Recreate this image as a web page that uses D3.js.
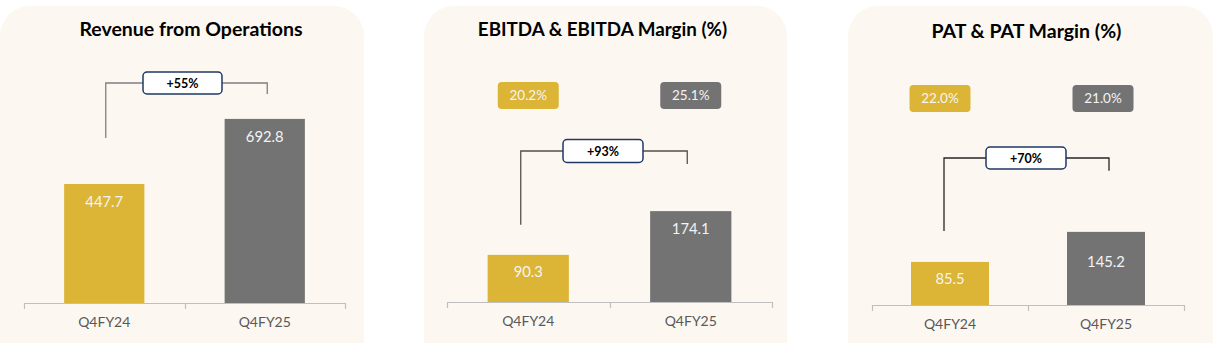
<!DOCTYPE html>
<html>
<head>
<meta charset="utf-8">
<script src="https://cdn.jsdelivr.net/npm/d3@7"></script>
<style>
  html, body { margin: 0; padding: 0; background: #ffffff; }
  svg { display: block; }
  text { font-family: Lato, "Open Sans", sans-serif; }
</style>
</head>
<body>
<svg id="chart" width="1213" height="347"></svg>
<script>
// ---- data ----
const categories = ["Q4FY24", "Q4FY25"];
const revenue = [447.7, 692.8];
const ebitda = [90.3, 174.1];
const ebitdaMargin = [20.2, 25.1];
const pat = [85.5, 145.2];
const patMargin = [22.0, 21.0];
const growth = ["+55%", "+93%", "+70%"];
const titles = ["Revenue from Operations", "EBITDA & EBITDA Margin (%)", "PAT & PAT Margin (%)"];

// ---- styling ----
const GOLD = "#DCB537";
const GREY = "#737373";
const PANEL_BG = "#FCF8F1";
const AXIS = "#BFBFBF";
const NAVY = "#1F3864";

// panel layout: card extents, plot area and annotation placement
const panels = [
  { x0: 0,   x1: 364,  values: revenue, margins: null,
    xr: [24, 345],   yr: [303, 90.4],  dmax: 800,
    titleDx: 9, titleY: 36, titleSize: 19.5, labelDy: [18, 18],
    bracket: { y: 83, l: { dx: 1.5, gap: 46 }, r: { dx: 2.5, gap: 25 }, box: { cx: 182.5, w: 79, h: 22 }, stroke: "#7F7F7F" } },
  { x0: 424, x1: 787,  values: ebitda, margins: ebitdaMargin,
    xr: [447, 772],  yr: [302, 197.6], dmax: 200,
    titleDx: -3, titleY: 36, titleSize: 18.8, labelDy: [17, 18],
    marginBox: { y: 82, dx: [0, 0] },
    bracket: { y: 151, l: { dx: -7.5, gap: 30 }, r: { dx: -3.5, gap: 47 }, box: { cx: 603, w: 80, h: 23 }, stroke: "#505050" } },
  { x0: 848, x1: 1213, values: pat, margins: patMargin,
    xr: [872, 1184], yr: [305, 224.4], dmax: 160,
    titleDx: -4, titleY: 38, titleSize: 19.5, labelDy: [17, 30],
    marginBox: { y: 85, dx: [-10, -3] },
    bracket: { y: 158, l: { dx: -6, gap: 31 }, r: { dx: 3, gap: 61 }, box: { cx: 1026, w: 80, h: 22 }, stroke: "#262626" } }
];

const colors = [GOLD, GREY];
const TOP = 6, BOTTOM = 343, RADIUS = 30;

const svg = d3.select("#chart");

// card with rounded top corners and square bottom
function cardPath(x0, x1) {
  const p = d3.path();
  p.moveTo(x0, BOTTOM);
  p.lineTo(x0, TOP + RADIUS);
  p.arcTo(x0, TOP, x0 + RADIUS, TOP, RADIUS);
  p.lineTo(x1 - RADIUS, TOP);
  p.arcTo(x1, TOP, x1, TOP + RADIUS, RADIUS);
  p.lineTo(x1, BOTTOM);
  p.closePath();
  return p.toString();
}

panels.forEach((pn, pi) => {
  const g = svg.append("g");

  g.append("path").attr("d", cardPath(pn.x0, pn.x1)).attr("fill", PANEL_BG);

  g.append("text")
    .attr("x", (pn.x0 + pn.x1) / 2 + pn.titleDx)
    .attr("y", pn.titleY)
    .attr("text-anchor", "middle")
    .attr("font-size", pn.titleSize)
    .attr("font-weight", 700)
    .attr("fill", "#000000")
    .text(titles[pi]);

  const x = d3.scaleBand().domain(categories).range(pn.xr).paddingInner(0.5).paddingOuter(0.25);
  const y = d3.scaleLinear().domain([0, pn.dmax]).range(pn.yr);
  const axisY = pn.yr[0];

  // category labels through a bottom axis
  const ax = g.append("g")
    .attr("transform", `translate(0,${axisY})`)
    .call(d3.axisBottom(x).tickSize(0).tickPadding(14));
  ax.select(".domain").remove();
  ax.selectAll("text")
    .attr("font-family", "Lato, 'Open Sans', sans-serif")
    .attr("font-size", 14)
    .attr("fill", "#595959");

  // bars
  g.selectAll("rect.bar")
    .data(pn.values)
    .join("rect")
    .attr("class", "bar")
    .attr("x", (d, i) => x(categories[i]))
    .attr("width", x.bandwidth())
    .attr("y", d => y(d))
    .attr("height", d => axisY - y(d))
    .attr("fill", (d, i) => colors[i]);

  // baseline with category-boundary ticks
  const [r0, r1] = pn.xr;
  g.append("line")
    .attr("x1", r0).attr("x2", r1).attr("y1", axisY + 0.5).attr("y2", axisY + 0.5)
    .attr("stroke", AXIS).attr("stroke-width", 1.2);
  d3.range(categories.length + 1).forEach(k => {
    const bx = Math.round(r0 + k * (r1 - r0) / categories.length) + 0.5;
    g.append("line")
      .attr("x1", bx).attr("x2", bx).attr("y1", axisY).attr("y2", axisY + 6)
      .attr("stroke", AXIS).attr("stroke-width", 1.2);
  });

  // value labels inside the bars
  g.selectAll("text.val")
    .data(pn.values)
    .join("text")
    .attr("class", "val")
    .attr("x", (d, i) => x(categories[i]) + x.bandwidth() / 2)
    .attr("y", (d, i) => y(d) + pn.labelDy[i])
    .attr("dy", "0.35em")
    .attr("text-anchor", "middle")
    .attr("font-size", 14.8)
    .attr("fill", "#F4F4F4")
    .text(d => d.toFixed(1));

  // margin badges
  if (pn.margins) {
    const mb = pn.marginBox;
    const bw = 61, bh = 27;
    pn.margins.forEach((m, i) => {
      const cx = x(categories[i]) + x.bandwidth() / 2 + mb.dx[i];
      g.append("rect")
        .attr("x", cx - bw / 2).attr("y", mb.y)
        .attr("width", bw).attr("height", bh)
        .attr("rx", 4).attr("ry", 4)
        .attr("fill", colors[i]);
      g.append("text")
        .attr("x", cx).attr("y", mb.y + bh / 2)
        .attr("dy", "0.35em")
        .attr("text-anchor", "middle")
        .attr("font-size", 13.5)
        .attr("fill", "#F4F4F4")
        .text(m.toFixed(1) + "%");
    });
  }

  // growth bracket
  const b = pn.bracket;
  const c0 = x(categories[0]) + x.bandwidth() / 2;
  const c1 = x(categories[1]) + x.bandwidth() / 2;
  const lx = c0 + b.l.dx, rx = c1 + b.r.dx;
  const ly = y(pn.values[0]) - b.l.gap, ry = y(pn.values[1]) - b.r.gap;
  g.append("path")
    .attr("d", `M${lx},${ly} V${b.y} H${rx} V${ry}`)
    .attr("fill", "none")
    .attr("stroke", b.stroke)
    .attr("stroke-width", 1.3);
  g.append("rect")
    .attr("x", b.box.cx - b.box.w / 2).attr("y", b.y - b.box.h / 2)
    .attr("width", b.box.w).attr("height", b.box.h)
    .attr("rx", 4).attr("ry", 4)
    .attr("fill", "#ffffff")
    .attr("stroke", NAVY)
    .attr("stroke-width", 1.5);
  g.append("text")
    .attr("x", b.box.cx).attr("y", b.y)
    .attr("dy", "0.36em")
    .attr("text-anchor", "middle")
    .attr("font-size", 12.5)
    .attr("font-weight", 700)
    .attr("fill", "#000000")
    .text(growth[pi]);
});
</script>
</body>
</html>
